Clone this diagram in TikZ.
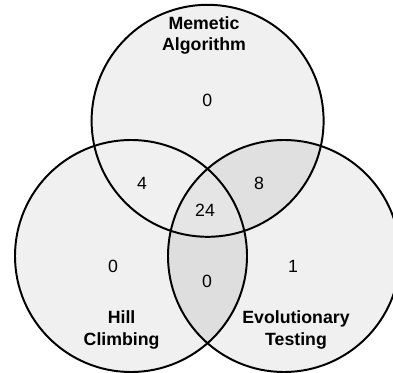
\documentclass[tikz,border=0pt]{standalone}
\usepackage{fontspec}
\setmainfont{Liberation Sans}
\begin{document}
\begin{tikzpicture}[
    set/.style={line width=1.4pt},
    setlabel/.style={font=\fontsize{12.6}{15}\selectfont\bfseries, align=center},
    count/.style={font=\fontsize{12.6}{15}\selectfont}]
  \useasboundingbox (0,0) rectangle (9.825,9.3);
  \clip (0,0) rectangle (9.825,9.3);
  % set centres
  \coordinate (ma) at (5.19,6.28);
  \coordinate (hc) at (3.275,2.9);
  \coordinate (et) at (7.1,2.9);
  % fills
  \fill[gray!12] (ma) circle (2.9) (hc) circle (2.9) (et) circle (2.9);
  \begin{scope}
    \clip (ma) circle (2.9);
    \fill[gray!24] (et) circle (2.9);
  \end{scope}
  \begin{scope}
    \clip (hc) circle (2.9);
    \fill[gray!26] (et) circle (2.9);
  \end{scope}
  \begin{scope}
    \clip (ma) circle (2.9);
    \clip (hc) circle (2.9);
    \fill[gray!20] (et) circle (2.9);
  \end{scope}
  % outlines
  \draw[set] (ma) circle (2.9);
  \draw[set] (hc) circle (2.9);
  \draw[set] (et) circle (2.9);
  % labels
  \node[setlabel] (malabel) at (5.1,8.41) {Memetic\\Algorithm};
  \node[setlabel] (hclabel) at (3.04,1.05) {Hill\\Climbing};
  \node[setlabel] (etlabel) at (7.4,1.05) {Evolutionary\\Testing};
  % counts
  \node[count] (nma) at (5.18,6.8) {0};
  \node[count] (nmahc) at (3.55,4.725) {4};
  \node[count] (nmaet) at (6.475,4.725) {8};
  \node[count] (nall) at (5.125,4.05) {24};
  \node[count] (nhc) at (2.825,2.65) {0};
  \node[count] (nhcet) at (5.175,2.275) {0};
  \node[count] (net) at (7.325,2.65) {1};
\end{tikzpicture}
\end{document}
